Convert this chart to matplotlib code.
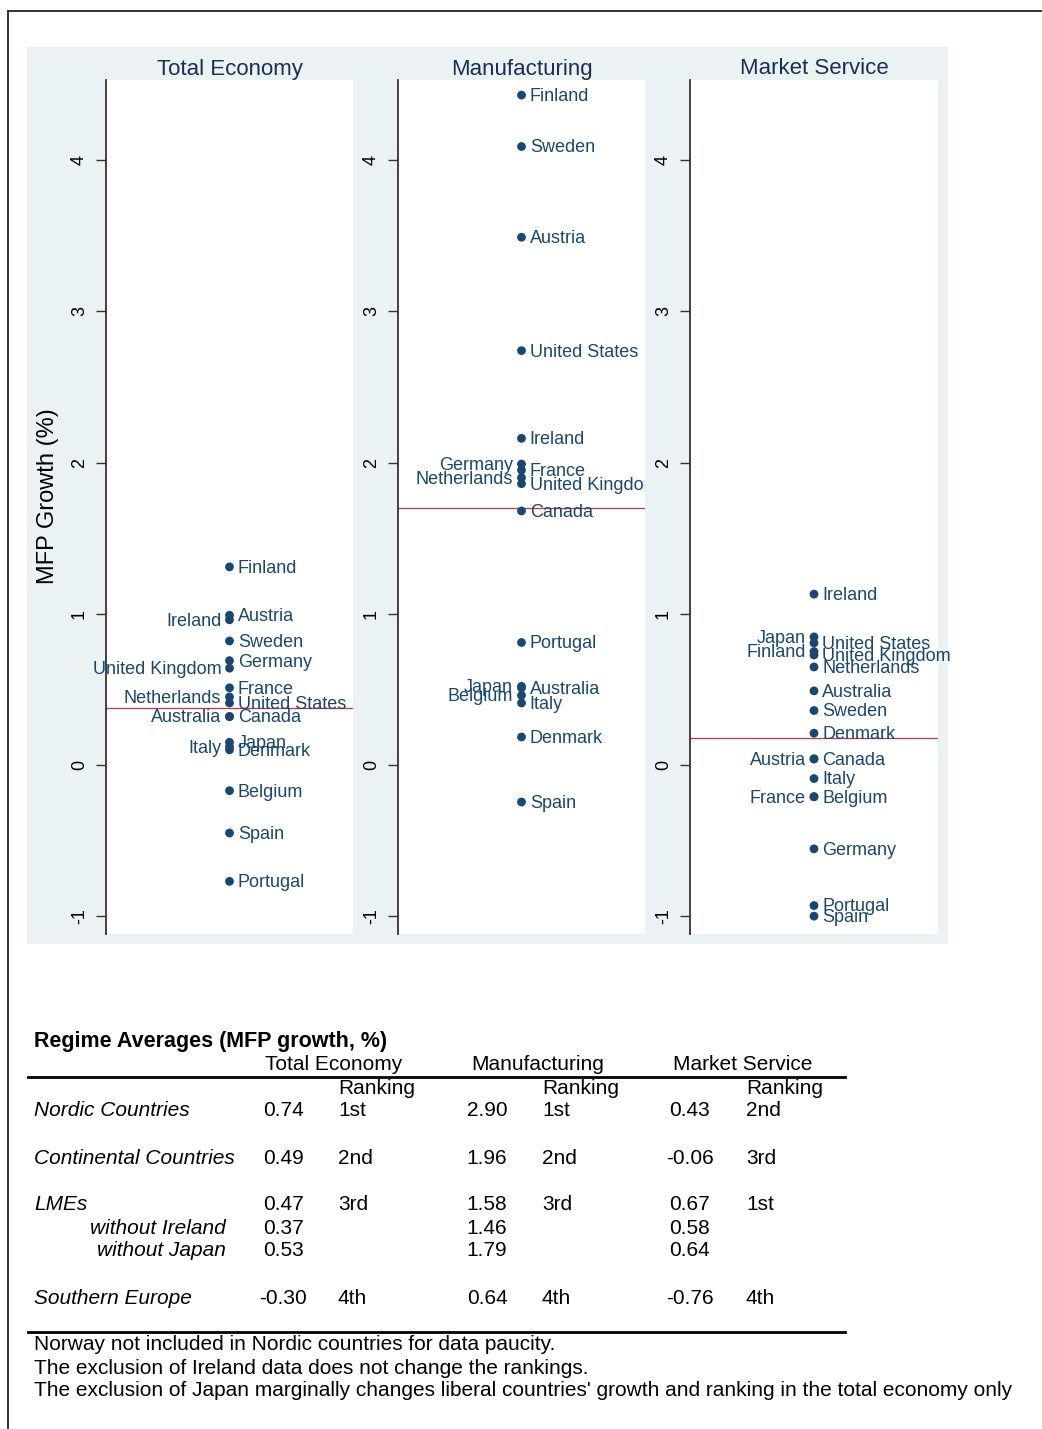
import matplotlib
matplotlib.use("Agg")
import matplotlib.pyplot as plt
import matplotlib.transforms as mtransforms
from matplotlib.lines import Line2D
from matplotlib.patches import Rectangle
import numpy as np

plt.rcParams['font.family'] = ['Liberation Sans', 'DejaVu Sans']

countries = ["Australia", "Austria", "Belgium", "Canada", "Denmark", "Finland",
             "France", "Germany", "Ireland", "Italy", "Japan", "Netherlands",
             "Portugal", "Spain", "Sweden", "United Kingdom", "United States"]

total_economy = [0.32, 0.99, -0.17, 0.32, 0.10, 1.31, 0.51, 0.69, 0.96, 0.12,
                 0.15, 0.45, -0.77, -0.45, 0.82, 0.64, 0.41]
manufacturing = [0.51, 3.49, 0.46, 1.68, 0.185, 4.43, 1.95, 1.99, 2.16, 0.41,
                 0.52, 1.90, 0.81, -0.245, 4.09, 1.86, 2.74]
market_service = [0.49, 0.04, -0.21, 0.04, 0.21, 0.75, -0.21, -0.555, 1.13, -0.09,
                  0.847, 0.648, -0.93, -1.0, 0.36, 0.727, 0.807]

panel_titles = ["Total Economy", "Manufacturing", "Market Service"]
panel_values = [total_economy, manufacturing, market_service]
# countries whose label sits to the left of the dot
left_labels = [
    {"Ireland", "United Kingdom", "Netherlands", "Australia", "Italy"},
    {"Germany", "Netherlands", "Japan", "Belgium"},
    {"Japan", "Finland", "Austria", "France"},
]
yticks = [-1, 0, 1, 2, 3, 4]

# regime averages table
table_title = "Regime Averages (MFP growth, %)"
regimes = ["Nordic Countries", "Continental Countries", "LMEs",
           "without Ireland", "without Japan", "Southern Europe"]
avg_total = ["0.74", "0.49", "0.47", "0.37", "0.53", "-0.30"]
rank_total = ["1st", "2nd", "3rd", "", "", "4th"]
avg_manuf = ["2.90", "1.96", "1.58", "1.46", "1.79", "0.64"]
rank_manuf = ["1st", "2nd", "3rd", "", "", "4th"]
avg_market = ["0.43", "-0.06", "0.67", "0.58", "0.64", "-0.76"]
rank_market = ["2nd", "3rd", "1st", "", "", "4th"]
notes = ["Norway not included in Nordic countries for data paucity.",
         "The exclusion of Ireland data does not change the rankings.",
         "The exclusion of Japan marginally changes liberal countries' growth and ranking in the total economy only"]

W, H = 1042, 1429
fig = plt.figure(figsize=(W / 100, H / 100), dpi=100)

def fx(x):
    return x / W

def fy(y):
    return 1 - y / H

navy = "#1a476f"
title_col = "#1e2d53"
bg = "#eaf2f3"

# outer frame (cropped)
fig.add_artist(Line2D([fx(8), 1], [fy(11), fy(11)], color="#333333", lw=1.4))
fig.add_artist(Line2D([fx(8), fx(8)], [fy(11), 0], color="#333333", lw=1.4))

# graph region background
fig.add_artist(Rectangle((fx(27), fy(944)), fx(948) - fx(27), fy(47) - fy(944),
                         facecolor=bg, edgecolor="none", zorder=0))

panel_x = [(106, 353), (398, 645), (690, 938)]
y0, y1 = 80, 934

for i, (title, vals) in enumerate(zip(panel_titles, panel_values)):
    xa, xb = panel_x[i]
    ax = fig.add_axes([fx(xa), fy(y1), fx(xb) - fx(xa), fy(y0) - fy(y1)])
    ax.set_facecolor("white")
    ax.set_xlim(-1, 1)
    ax.set_ylim(-1.118, 4.53)
    for s in ["top", "right", "bottom"]:
        ax.spines[s].set_visible(False)
    ax.spines["left"].set_color("#333333")
    ax.spines["left"].set_linewidth(1.3)
    ax.set_xticks([])
    ax.set_yticks(yticks)
    ax.set_yticklabels([str(t) for t in yticks], rotation=90, va="center")
    ax.tick_params(axis="y", length=7, width=1.0, color="#333333", pad=6,
                   labelsize=13, labelcolor="black")

    ax.axhline(np.mean(vals), color="#c0394a", lw=0.9, zorder=1)
    ax.scatter(np.zeros(len(vals)), vals, s=40, color=navy, zorder=3,
               edgecolors="none")

    right_off = mtransforms.offset_copy(ax.transData, fig=fig, x=6, y=-1, units="points")
    left_off = mtransforms.offset_copy(ax.transData, fig=fig, x=-6, y=-1, units="points")
    clip = (i == 1)
    for name, v in zip(countries, vals):
        if name in left_labels[i]:
            ax.text(0, v, name, transform=left_off, ha="right", va="center",
                    fontsize=13, color=navy, clip_on=clip)
        else:
            ax.text(0, v, name, transform=right_off, ha="left", va="center",
                    fontsize=13, color=navy, clip_on=clip)

    fig.text(fx((xa + xb) / 2), fy(69), title, ha="center", va="center",
             fontsize=16, color=title_col)

fig.text(fx(48), fy(496), "MFP Growth (%)", rotation=90, ha="center",
         va="center", fontsize=17, color="black")

# table
tsize = 15
fig.text(fx(34), fy(1041), table_title, ha="left", va="center",
         fontsize=15.5, fontweight="bold")
fig.text(fx(334), fy(1064), "Total Economy", ha="center", va="center", fontsize=tsize)
fig.text(fx(538), fy(1064), "Manufacturing", ha="center", va="center", fontsize=tsize)
fig.text(fx(743), fy(1064), "Market Service", ha="center", va="center", fontsize=tsize)
fig.add_artist(Line2D([fx(28), fx(845)], [fy(1077), fy(1077)], color="black", lw=2))
for xr in [338, 542, 746]:
    fig.text(fx(xr), fy(1088), "Ranking", ha="left", va="center", fontsize=tsize)

row_y = [1111, 1158, 1204, 1228, 1251, 1298]
for j, name in enumerate(regimes):
    yy = fy(row_y[j])
    if name.startswith("without"):
        fig.text(fx(226), yy, name, ha="right", va="center", fontsize=tsize, style="italic")
    else:
        fig.text(fx(34), yy, name, ha="left", va="center", fontsize=tsize, style="italic")
    fig.text(fx(283), yy, avg_total[j], ha="center", va="center", fontsize=tsize)
    fig.text(fx(338), yy, rank_total[j], ha="left", va="center", fontsize=tsize)
    fig.text(fx(487), yy, avg_manuf[j], ha="center", va="center", fontsize=tsize)
    fig.text(fx(542), yy, rank_manuf[j], ha="left", va="center", fontsize=tsize)
    fig.text(fx(690), yy, avg_market[j], ha="center", va="center", fontsize=tsize)
    fig.text(fx(746), yy, rank_market[j], ha="left", va="center", fontsize=tsize)

fig.add_artist(Line2D([fx(28), fx(845)], [fy(1332), fy(1332)], color="black", lw=2))
for k, note in enumerate(notes):
    fig.text(fx(34), fy(1345 + 23 * k), note, ha="left", va="center", fontsize=tsize)

fig.savefig("out.png", dpi=100)
